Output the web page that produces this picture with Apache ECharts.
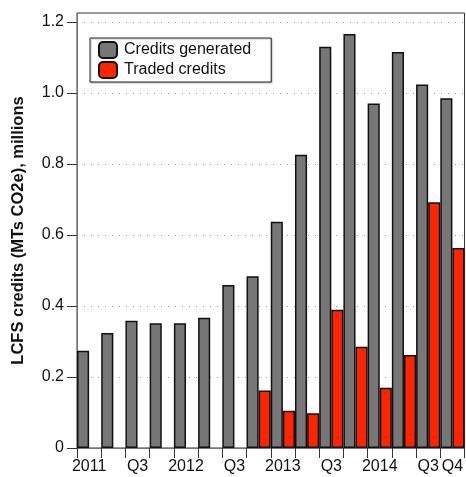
<!DOCTYPE html>
<html>
<head>
<meta charset="utf-8">
<script src="https://cdn.jsdelivr.net/npm/echarts@6/dist/echarts.min.js"></script>
<style>
  html, body { margin: 0; padding: 0; background: #fff; }
  #chart { width: 466px; height: 477px; }
</style>
</head>
<body>
<div id="chart"></div>
<script>
  // quarters 2011 Q1 .. 2014 Q4
  var categories = ['2011 Q1', '2011 Q2', '2011 Q3', '2011 Q4',
                    '2012 Q1', '2012 Q2', '2012 Q3', '2012 Q4',
                    '2013 Q1', '2013 Q2', '2013 Q3', '2013 Q4',
                    '2014 Q1', '2014 Q2', '2014 Q3', '2014 Q4'];
  var tickLabels = ['2011', '', 'Q3', '', '2012', '', 'Q3', '', '2013', '', 'Q3', '', '2014', '', 'Q3', 'Q4'];
  var generated = [0.274, 0.324, 0.358, 0.351, 0.351, 0.367, 0.459, 0.484,
                   0.637, 0.826, 1.130, 1.166, 0.970, 1.115, 1.024, 0.985];
  var traded = ['-', '-', '-', '-', '-', '-', '-', 0.162,
                0.105, 0.098, 0.389, 0.285, 0.170, 0.262, 0.692, 0.563];

  var font = 'Liberation Sans, Arial, Helvetica, sans-serif';
  var chart = echarts.init(document.getElementById('chart'));
  chart.setOption({
    backgroundColor: '#ffffff',
    animation: false,
    textStyle: { fontFamily: font },
    grid: {
      left: 77, right: -1, top: 13, bottom: 29,
      show: true,
      borderColor: '#333',
      borderWidth: 1
    },
    legend: {
      orient: 'vertical',
      left: 90,
      top: 38,
      padding: [3, 20, 3, 8],
      itemGap: 2,
      itemWidth: 18,
      itemHeight: 16,
      icon: 'roundRect',
      backgroundColor: '#fff',
      borderColor: '#222',
      borderWidth: 1,
      shadowColor: 'rgba(0,0,0,0.25)',
      shadowOffsetX: 1,
      shadowOffsetY: 1,
      shadowBlur: 1,
      selectedMode: false,
      textStyle: { fontSize: 16, color: '#111', fontFamily: font, padding: [0, 0, 0, 2] },
      data: ['Credits generated', 'Traded credits']
    },
    xAxis: {
      type: 'category',
      data: categories,
      axisLine: { lineStyle: { color: '#777', width: 1 } },
      axisTick: { show: true, length: 10, interval: 0, lineStyle: { color: '#333' } },
      axisLabel: {
        interval: 0,
        margin: 11,
        fontSize: 16,
        color: '#111',
        fontFamily: font,
        formatter: function (v, i) { return tickLabels[i]; }
      }
    },
    yAxis: {
      type: 'value',
      min: 0,
      max: 1.225,
      interval: 0.2,
      name: 'LCFS credits (MTs CO2e), millions',
      nameLocation: 'middle',
      nameGap: 50,
      nameTextStyle: { fontSize: 16.5, fontWeight: 'bold', color: '#111', fontFamily: font },
      axisLine: { show: true, lineStyle: { color: '#777', width: 1 } },
      axisTick: { show: true, length: 10, lineStyle: { color: '#333' } },
      axisLabel: {
        fontSize: 16,
        color: '#111',
        margin: 13,
        fontFamily: font,
        showMaxLabel: false,
        formatter: function (v) {
          if (Math.abs(v / 0.2 - Math.round(v / 0.2)) > 1e-6) return '';
          return v === 0 ? '0' : v.toFixed(1);
        }
      },
      splitLine: { show: true, lineStyle: { color: '#999', type: [1, 6], width: 1 } }
    },
    series: [
      {
        name: 'Credits generated',
        type: 'bar',
        data: generated,
        barGap: '0%',
        barCategoryGap: '0%',
        itemStyle: { color: '#777777', borderColor: '#111', borderWidth: 1.5 }
      },
      {
        name: 'Traded credits',
        type: 'bar',
        data: traded,
        itemStyle: { color: '#ff2400', borderColor: '#111', borderWidth: 1.5 }
      }
    ]
  });
</script>
</body>
</html>
